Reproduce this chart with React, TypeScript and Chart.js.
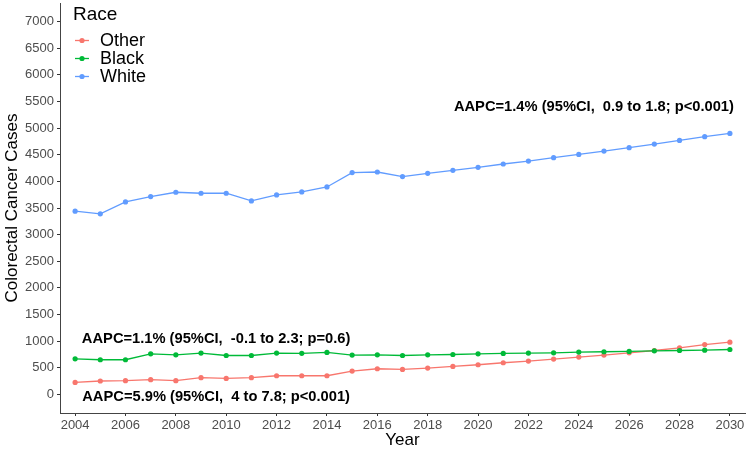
import React, { useEffect, useRef } from "react";
import { Chart, registerables } from "chart.js";

Chart.register(...registerables);

const years = [
  2004, 2005, 2006, 2007, 2008, 2009, 2010, 2011, 2012, 2013, 2014, 2015, 2016,
  2017, 2018, 2019, 2020, 2021, 2022, 2023, 2024, 2025, 2026, 2027, 2028, 2029, 2030,
];
const otherCases = [
  225, 251, 257, 275, 257, 313, 300, 313, 350, 350, 350, 438, 481,
  468, 494, 524, 556, 594, 625, 663, 700, 738, 781, 824, 874, 936, 981,
];
const blackCases = [
  668, 650, 650, 762, 743, 775, 730, 730, 775, 770, 787, 738, 743,
  730, 743, 749, 762, 768, 775, 781, 794, 800, 806, 818, 824, 830, 843,
];
const whiteCases = [
  3440, 3390, 3614, 3715, 3796, 3777, 3777, 3633, 3745, 3801, 3895, 4165, 4176,
  4090, 4152, 4208, 4264, 4326, 4382, 4446, 4507, 4569, 4633, 4700, 4770, 4839, 4900,
];
const seriesNames = ["Other", "Black", "White"];
const seriesColors = ["#F8766D", "#00BA38", "#619CFF"];
const xTicks = [2004, 2006, 2008, 2010, 2012, 2014, 2016, 2018, 2020, 2022, 2024, 2026, 2028, 2030];
const yTicks = [0, 500, 1000, 1500, 2000, 2500, 3000, 3500, 4000, 4500, 5000, 5500, 6000, 6500, 7000];
const annotationTexts = [
  "AAPC=1.4% (95%CI,  0.9 to 1.8; p<0.001)",
  "AAPC=1.1% (95%CI,  -0.1 to 2.3; p=0.6)",
  "AAPC=5.9% (95%CI,  4 to 7.8; p<0.001)",
];
const annotationX = [2024.6, 2009.6, 2009.6];
const annotationY = [5390, 1045, -45];

const FONT = "'Liberation Sans', Arial, Helvetica, sans-serif";

export default function App() {
  const ref = useRef<HTMLCanvasElement | null>(null);

  useEffect(() => {
    document.body.style.margin = "0";
    const canvas = ref.current;
    if (!canvas) return;
    const seriesValues = [otherCases, blackCases, whiteCases];

    const annotationPlugin = {
      id: "aapcText",
      afterDatasetsDraw(chart: any) {
        const { ctx, scales } = chart;
        ctx.save();
        ctx.font = `bold 14.7px ${FONT}`;
        ctx.fillStyle = "#000000";
        ctx.textAlign = "center";
        ctx.textBaseline = "middle";
        annotationTexts.forEach((t, i) => {
          ctx.fillText(t, scales.x.getPixelForValue(annotationX[i]), scales.y.getPixelForValue(annotationY[i]));
        });
        ctx.restore();
      },
    };

    const legendPlugin = {
      id: "insideLegend",
      afterDraw(chart: any) {
        const { ctx } = chart;
        ctx.save();
        ctx.textAlign = "left";
        ctx.textBaseline = "middle";
        ctx.fillStyle = "#000000";
        ctx.font = `19px ${FONT}`;
        ctx.fillText("Race", 73, 15);
        ctx.font = `18px ${FONT}`;
        chart.data.datasets.forEach((ds: any, i: number) => {
          const y = 40.5 + i * 18;
          ctx.strokeStyle = ds.borderColor;
          ctx.lineWidth = 1.3;
          ctx.beginPath();
          ctx.moveTo(75, y);
          ctx.lineTo(89, y);
          ctx.stroke();
          ctx.fillStyle = ds.backgroundColor;
          ctx.beginPath();
          ctx.arc(82, y, 2.6, 0, Math.PI * 2);
          ctx.fill();
          ctx.fillStyle = "#000000";
          ctx.fillText(ds.label, 100, y + 1);
        });
        ctx.restore();
      },
    };

    const chart = new Chart(canvas, {
      type: "line",
      data: {
        datasets: seriesNames.map((name, i) => ({
          label: name,
          data: years.map((yr, j) => ({ x: yr, y: seriesValues[i][j] })),
          borderColor: seriesColors[i],
          backgroundColor: seriesColors[i],
          borderWidth: 1.3,
          pointRadius: 2.6,
          pointBorderWidth: 0,
          pointHoverRadius: 2.6,
          tension: 0,
          order: 3 - i,
        })),
      },
      options: {
        responsive: false,
        animation: false,
        layout: { padding: { top: 3, right: 4, left: 0, bottom: 0 } },
        plugins: {
          legend: { display: false },
          tooltip: { enabled: false },
        },
        scales: {
          x: {
            type: "linear",
            min: 2003.4,
            max: 2030.6,
            afterBuildTicks(scale: any) {
              scale.ticks = xTicks.map((v) => ({ value: v }));
            },
            afterFit(scale: any) {
              scale.height = 39;
              scale.paddingLeft = 0;
              scale.paddingRight = 0;
            },
            grid: {
              display: true,
              drawOnChartArea: false,
              drawTicks: true,
              tickLength: 3,
              color: "#333333",
            },
            border: { display: true, color: "#444444", width: 1 },
            ticks: {
              color: "#4d4d4d",
              font: { family: FONT, size: 13 },
              padding: 2,
              maxRotation: 0,
              autoSkip: false,
              callback: (v: any) => String(v),
            },
            title: {
              display: true,
              text: "Year",
              color: "#000000",
              font: { family: FONT, size: 17 },
              padding: { top: 0, bottom: 1 },
            },
          },
          y: {
            type: "linear",
            min: -350,
            max: 7350,
            afterBuildTicks(scale: any) {
              scale.ticks = yTicks.map((v) => ({ value: v }));
            },
            afterFit(scale: any) {
              scale.width = 60;
              scale.paddingTop = 0;
              scale.paddingBottom = 0;
            },
            grid: {
              display: true,
              drawOnChartArea: false,
              drawTicks: true,
              tickLength: 3,
              color: "#333333",
            },
            border: { display: true, color: "#444444", width: 1 },
            ticks: {
              color: "#4d4d4d",
              font: { family: FONT, size: 13 },
              padding: 3,
              autoSkip: false,
              callback: (v: any) => String(v),
            },
            title: {
              display: true,
              text: "Colorectal Cancer Cases",
              color: "#000000",
              font: { family: FONT, size: 17 },
              padding: { top: 2, bottom: 0 },
            },
          },
        },
      },
      plugins: [annotationPlugin, legendPlugin],
    } as any);

    return () => chart.destroy();
  }, []);

  return <canvas ref={ref} width={749} height={452} style={{ display: "block" }} />;
}
